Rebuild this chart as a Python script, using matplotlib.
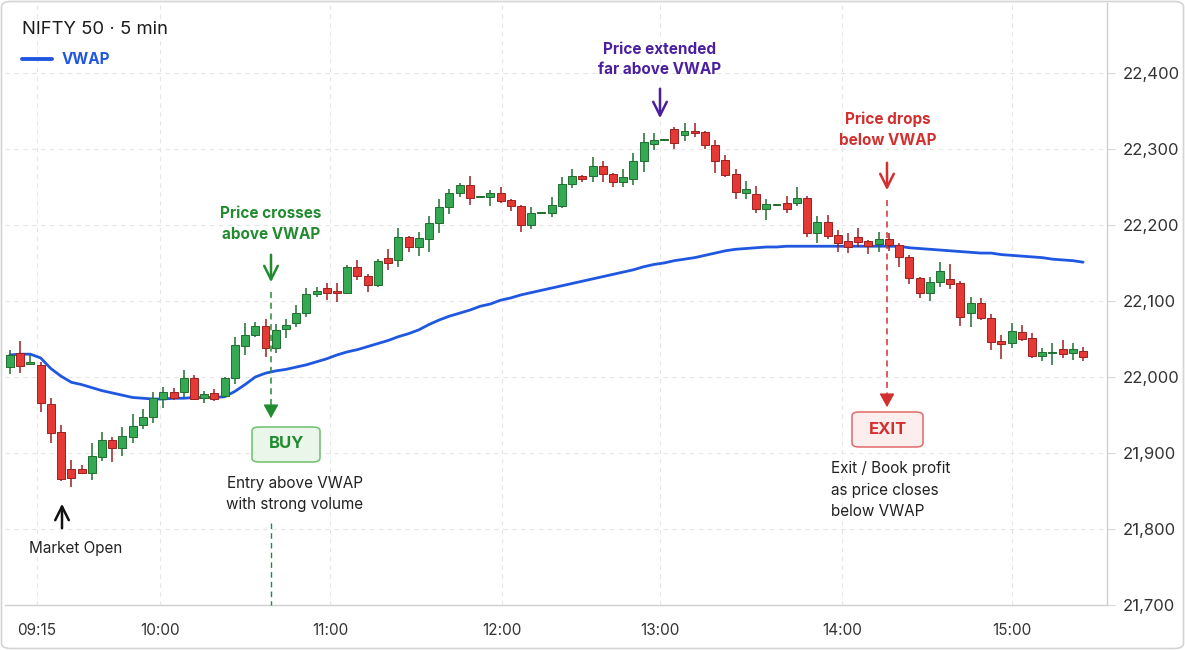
import matplotlib
matplotlib.use("Agg")
import matplotlib.pyplot as plt
from matplotlib.patches import FancyBboxPatch, FancyArrowPatch, ArrowStyle
from matplotlib.lines import Line2D

# ---------------- data ----------------
opens = [22013, 22032, 22017, 22016, 21965, 21928, 21879, 21879, 21874, 21895,
         21917, 21907, 21921, 21937, 21947, 21971, 21980, 21980, 21999, 21972,
         21979, 21975, 21999, 22041, 22055, 22067, 22038, 22063, 22071, 22084,
         22109, 22117, 22112, 22111, 22145, 22133, 22121, 22157, 22154, 22184,
         22171, 22182, 22203, 22224, 22242, 22253, 22237, 22237, 22242, 22233,
         22225, 22200, 22216, 22216, 22225, 22254, 22265, 22265, 22278, 22267,
         22257, 22261, 22284, 22307, 22312, 22326, 22318, 22324, 22322, 22305,
         22286, 22267, 22242, 22241, 22221, 22226, 22229, 22229, 22236, 22190,
         22204, 22187, 22179, 22184, 22179, 22175, 22182, 22174, 22158, 22130,
         22111, 22125, 22129, 22124, 22084, 22097, 22078, 22047, 22045, 22059,
         22051, 22028, 22031, 22037, 22032, 22034]
highs = [22036, 22047, 22029, 22020, 21972, 21937, 21891, 21884, 21913, 21928,
         21921, 21934, 21951, 21958, 21980, 21987, 21986, 22009, 22003, 21982,
         21984, 22000, 22053, 22071, 22072, 22076, 22070, 22076, 22095, 22117,
         22118, 22124, 22124, 22147, 22154, 22135, 22155, 22168, 22196, 22186,
         22191, 22212, 22234, 22247, 22255, 22265, 22238, 22246, 22250, 22234,
         22226, 22224, 22217, 22237, 22263, 22274, 22266, 22290, 22284, 22268,
         22274, 22295, 22321, 22321, 22313, 22329, 22334, 22334, 22324, 22312,
         22292, 22274, 22258, 22251, 22234, 22227, 22238, 22250, 22238, 22212,
         22213, 22193, 22190, 22196, 22180, 22191, 22190, 22176, 22160, 22131,
         22132, 22151, 22149, 22126, 22105, 22104, 22083, 22055, 22071, 22068,
         22058, 22038, 22045, 22049, 22045, 22040]
lows = [22004, 22005, 22016, 21954, 21913, 21863, 21855, 21872, 21864, 21890,
        21888, 21896, 21913, 21932, 21940, 21959, 21970, 21974, 21970, 21966,
        21968, 21974, 21991, 22029, 22053, 22026, 22032, 22051, 22066, 22079,
        22105, 22101, 22099, 22109, 22128, 22112, 22118, 22141, 22145, 22165,
        22159, 22165, 22190, 22215, 22237, 22226, 22236, 22225, 22229, 22218,
        22191, 22195, 22215, 22211, 22222, 22249, 22257, 22257, 22257, 22250,
        22250, 22253, 22270, 22299, 22311, 22300, 22311, 22316, 22300, 22268,
        22263, 22234, 22234, 22216, 22207, 22225, 22216, 22225, 22184, 22176,
        22182, 22165, 22163, 22171, 22162, 22165, 22166, 22145, 22122, 22104,
        22100, 22118, 22116, 22067, 22066, 22075, 22036, 22024, 22038, 22047,
        22025, 22021, 22016, 22025, 22022, 22021]
closes = [22029, 22015, 22020, 21966, 21926, 21866, 21867, 21874, 21896, 21917,
          21907, 21922, 21936, 21947, 21972, 21980, 21972, 21999, 21971, 21978,
          21971, 21999, 22042, 22055, 22067, 22038, 22062, 22068, 22084, 22109,
          22113, 22111, 22111, 22145, 22133, 22121, 22153, 22150, 22184, 22171,
          22183, 22203, 22224, 22242, 22253, 22236, 22237, 22242, 22232, 22225,
          22200, 22216, 22216, 22226, 22254, 22265, 22261, 22278, 22267, 22257,
          22263, 22284, 22309, 22312, 22312, 22308, 22324, 22321, 22305, 22284,
          22266, 22243, 22247, 22221, 22228, 22226, 22221, 22236, 22190, 22204,
          22186, 22176, 22171, 22178, 22172, 22182, 22174, 22158, 22130, 22111,
          22125, 22139, 22122, 22079, 22097, 22078, 22046, 22043, 22061, 22050,
          22028, 22033, 22033, 22030, 22037, 22026]
vwap = [22029, 22030, 22030, 22025, 22011, 22001, 21993, 21990, 21986, 21982,
        21979, 21976, 21973, 21972, 21971, 21971, 21972, 21972, 21973, 21973,
        21973, 21974, 21981, 21990, 22000, 22005, 22008, 22010, 22013, 22016,
        22020, 22024, 22029, 22033, 22036, 22040, 22044, 22048, 22053, 22057,
        22062, 22069, 22075, 22080, 22084, 22088, 22093, 22096, 22101, 22104,
        22108, 22111, 22114, 22117, 22120, 22123, 22126, 22129, 22132, 22135,
        22138, 22141, 22145, 22148, 22150, 22153, 22155, 22157, 22160, 22163,
        22166, 22168, 22169, 22170, 22171, 22171, 22172, 22172, 22172, 22172,
        22172, 22172, 22172, 22172, 22172, 22172, 22172, 22172, 22170, 22169,
        22168, 22167, 22166, 22165, 22164, 22163, 22163, 22161, 22160, 22159,
        22158, 22157, 22155, 22154, 22153, 22151]

time_labels = ["09:15", "10:00", "11:00", "12:00", "13:00", "14:00", "15:00"]
time_ticks = [2.6, 14.7, 31.3, 48.1, 63.6, 81.4, 98.0]
price_ticks = [21700, 21800, 21900, 22000, 22100, 22200, 22300, 22400]

# ---------------- styling ----------------
W, H = 1185, 650
GREEN = "#34a853"
GREEN_EDGE = "#1f6e30"
RED = "#e53935"
RED_EDGE = "#9e1f1f"
BLUE = "#1f57e0"
TXT_GREEN = "#228b30"
TXT_RED = "#d32f2f"
PURPLE = "#4b1fa0"

plt.rcParams['font.family'] = ['Inter', 'DejaVu Sans']

fig = plt.figure(figsize=(W / 100, H / 100), dpi=100)
ax = fig.add_axes([5 / W, (H - 605) / H, (1107 - 5) / W, (605 - 3) / H])

n = len(opens)
xs = list(range(n))
ax.set_xlim(-0.49, 107.34)
ax.set_ylim(21700, 22492)

# grid
ax.set_yticks(price_ticks)
ax.set_xticks(time_ticks)
ax.set_xticklabels(time_labels)
ax.grid(True, color="#e6e6e6", linestyle=(0, (4, 4)), linewidth=0.8, zorder=0)

# VWAP
ax.plot(xs, vwap, color=BLUE, linewidth=2.0, zorder=3, solid_capstyle="round")

# candles
body_w = 0.78
for i in xs:
    o, h, l, c = opens[i], highs[i], lows[i], closes[i]
    up = c >= o
    face = GREEN if up else RED
    edge = GREEN_EDGE if up else RED_EDGE
    ax.vlines(i, l, h, color=edge, linewidth=1.1, zorder=4)
    bottom = min(o, c)
    height = max(abs(c - o), 1.6)
    ax.bar(i, height, width=body_w, bottom=bottom, color=face,
           edgecolor=edge, linewidth=0.7, zorder=5)

# axes styling
for s in ["left", "top"]:
    ax.spines[s].set_visible(False)
for s in ["right", "bottom"]:
    ax.spines[s].set_color("#d0d0d0")
    ax.spines[s].set_linewidth(1.0)
ax.yaxis.tick_right()
ax.set_yticklabels([f"{v:,}" for v in price_ticks])
ax.tick_params(axis="y", length=6, color="#d8d8d8", labelsize=12,
               labelcolor="#333333", pad=5)
ax.tick_params(axis="x", length=0, labelsize=11, labelcolor="#333333", pad=13)


# ---------------- annotations (figure pixel layout) ----------------
def P(x, y):
    return (x / W, 1 - y / H)


def line(x0, y0, x1, y1, **kw):
    a, b = P(x0, y0)
    c, d = P(x1, y1)
    fig.add_artist(Line2D([a, c], [b, d], transform=fig.transFigure, **kw))


def arrow(x0, y0, x1, y1, color, style="->", lw=1.8, hw=0.35, hl=0.7):
    fig.add_artist(FancyArrowPatch(
        P(x0, y0), P(x1, y1), transform=fig.transFigure,
        arrowstyle=ArrowStyle(style, head_length=hl, head_width=hw),
        color=color, linewidth=lw, mutation_scale=14, zorder=10))


def text(x, y, s, **kw):
    fig.text(*P(x, y), s, **kw)


# figure border
fig.add_artist(FancyBboxPatch((1.5 / W, 1.5 / H), (W - 3) / W, (H - 3) / H,
                              boxstyle="round,pad=0,rounding_size=0.008",
                              transform=fig.transFigure, fill=False,
                              edgecolor="#d4d4d4", linewidth=1.2))

# title and legend
text(22, 29, "NIFTY 50 \u00b7 5 min", fontsize=13.3, color="#1c1c1c", va="center", ha="left")
line(22, 59, 52, 59, color=BLUE, linewidth=2.8, solid_capstyle="round")
text(62, 59, "VWAP", fontsize=11, color=BLUE, fontweight="bold", va="center", ha="left")

# Market open
arrow(62, 531, 62, 501, "#111111", lw=1.8)
text(76, 549, "Market Open", fontsize=11, color="#222222", ha="center", va="center")

# BUY
text(271, 223.5, "Price crosses\nabove VWAP", fontsize=11, color=TXT_GREEN,
     fontweight="bold", ha="center", va="center", linespacing=1.5)
arrow(271, 252, 271, 285, TXT_GREEN, lw=1.8)
line(271, 292, 271, 412, color=TXT_GREEN, linewidth=1.1, linestyle=(0, (4, 3)))
arrow(271, 408, 271, 421, TXT_GREEN, style="-|>", lw=1.0, hw=0.33, hl=0.6)
fig.add_artist(FancyBboxPatch(P(252, 462), 68 / W, 35 / H,
                              boxstyle="round,pad=0,rounding_size=0.006",
                              transform=fig.transFigure, facecolor="#eaf6ea",
                              edgecolor="#6cbf6c", linewidth=1.1, zorder=9))
text(287, 444, "BUY", fontsize=12, color=TXT_GREEN, fontweight="bold",
     ha="center", va="center", zorder=11)
text(295, 494, "Entry above VWAP\nwith strong volume", fontsize=11,
     color="#222222", ha="center", va="center", linespacing=1.5)
line(271, 523, 271, 605, color=TXT_GREEN, linewidth=1.0, linestyle=(0, (4, 3)))

# Peak
text(660, 59.5, "Price extended\nfar above VWAP", fontsize=11, color=PURPLE,
     fontweight="bold", ha="center", va="center", linespacing=1.5)
arrow(660, 86, 660, 121, PURPLE, lw=1.8)

# EXIT
text(888, 129.5, "Price drops\nbelow VWAP", fontsize=11, color=TXT_RED,
     fontweight="bold", ha="center", va="center", linespacing=1.5)
arrow(887, 160, 887, 193, TXT_RED, lw=1.8)
line(887, 200, 887, 401, color=TXT_RED, linewidth=1.1, linestyle=(0, (4, 3)))
arrow(887, 397, 887, 410, TXT_RED, style="-|>", lw=1.0, hw=0.33, hl=0.6)
fig.add_artist(FancyBboxPatch(P(852, 447), 71 / W, 35 / H,
                              boxstyle="round,pad=0,rounding_size=0.006",
                              transform=fig.transFigure, facecolor="#fdeeee",
                              edgecolor="#e06a6a", linewidth=1.1, zorder=9))
text(887.5, 430, "EXIT", fontsize=12, color=TXT_RED, fontweight="bold",
     ha="center", va="center", zorder=11)
text(831, 490, "Exit / Book profit\nas price closes\nbelow VWAP", fontsize=11,
     color="#222222", ha="left", va="center", linespacing=1.5)

fig.savefig("out.png", dpi=100, facecolor="white")
